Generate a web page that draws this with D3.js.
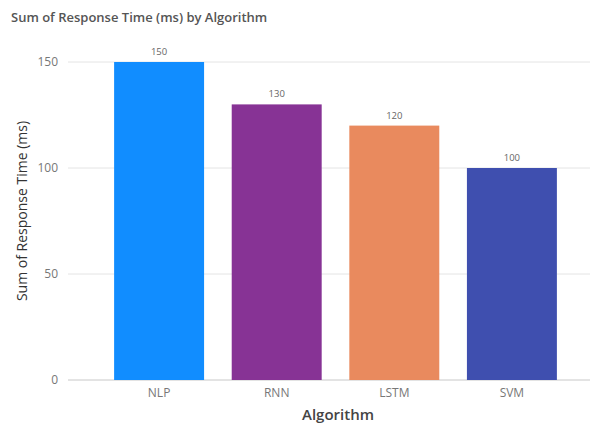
<!DOCTYPE html>
<html>
<head>
<meta charset="utf-8">
<script src="https://cdn.jsdelivr.net/npm/d3@7"></script>
<style>
  body { margin: 0; background: #fff; }
  text { font-family: "Open Sans", "Noto Sans", sans-serif; }
</style>
</head>
<body>
<div id="chart"></div>
<script>
var algorithms = ["NLP", "RNN", "LSTM", "SVM"];
var responseTimes = [150, 130, 120, 100];
var barColors = ["#118DFF", "#873395", "#E98A5E", "#3F4FAF"];
var yTicks = [0, 50, 100, 150];

var width = 600, height = 425;

var data = algorithms.map((a, i) => ({key: a, value: responseTimes[i], color: barColors[i]}));

var svg = d3.select("#chart").append("svg")
    .attr("width", width)
    .attr("height", height);

var x = d3.scaleBand()
    .domain(algorithms)
    .range([100, 571])
    .paddingInner(0.235)
    .paddingOuter(0.12);

var y = d3.scaleLinear()
    .domain([0, 150])
    .range([380, 62]);

// title
svg.append("text")
    .attr("x", 11)
    .attr("y", 22)
    .style("font-size", "13px")
    .style("font-weight", "600")
    .style("fill", "#555")
    .text("Sum of Response Time (ms) by Algorithm");

// gridlines
svg.append("g")
    .selectAll("line")
    .data(yTicks)
    .enter()
    .append("line")
    .attr("x1", 68)
    .attr("x2", 590)
    .attr("y1", d => y(d))
    .attr("y2", d => y(d))
    .style("stroke", d => d == 0 ? "#c8c8c8" : "#e4e4e4")
    .style("stroke-width", 1);

// y tick labels
svg.append("g")
    .selectAll("text")
    .data(yTicks)
    .enter()
    .append("text")
    .attr("x", 58)
    .attr("y", d => y(d))
    .attr("dy", "0.35em")
    .style("text-anchor", "end")
    .style("font-size", "12px")
    .style("fill", "#777")
    .text(d => d);

// bars
svg.selectAll("rect.bar")
    .data(data)
    .enter()
    .append("rect")
    .attr("class", "bar")
    .attr("x", d => x(d.key))
    .attr("width", x.bandwidth())
    .attr("y", d => y(d.value))
    .attr("height", d => y(0) - y(d.value))
    .style("fill", d => d.color);

// value labels
svg.selectAll("text.valueLabel")
    .data(data)
    .enter()
    .append("text")
    .attr("class", "valueLabel")
    .attr("x", d => x(d.key) + x.bandwidth() / 2)
    .attr("y", d => y(d.value) - 7)
    .style("text-anchor", "middle")
    .style("font-size", "9.5px")
    .style("fill", "#666")
    .text(d => d.value);

// x tick labels
svg.append("g")
    .selectAll("text")
    .data(algorithms)
    .enter()
    .append("text")
    .attr("x", d => x(d) + x.bandwidth() / 2)
    .attr("y", 397)
    .style("text-anchor", "middle")
    .style("font-size", "12px")
    .style("fill", "#777")
    .text(d => d);

// axis titles
svg.append("text")
    .attr("x", 338)
    .attr("y", 420)
    .style("text-anchor", "middle")
    .style("font-size", "15px")
    .style("font-weight", "600")
    .style("fill", "#444")
    .text("Algorithm");

svg.append("text")
    .attr("transform", "translate(27, 211) rotate(-90)")
    .style("text-anchor", "middle")
    .style("font-size", "14px")
    .style("fill", "#333")
    .text("Sum of Response Time (ms)");
</script>
</body>
</html>
